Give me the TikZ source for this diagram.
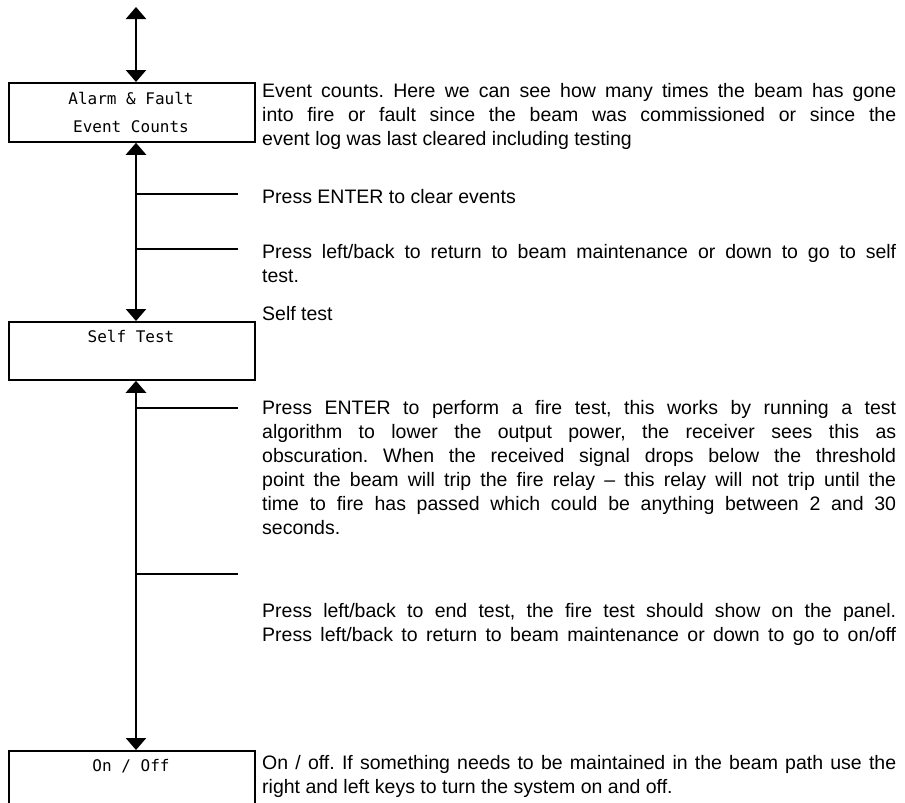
\documentclass[tikz,border=0pt]{standalone}
\usepackage{fontspec}
\setmainfont{Liberation Sans}
\newfontfamily\boxfont{DejaVu Sans Mono}
\usetikzlibrary{arrows.meta}
\tikzset{
  menubox/.style={draw, line width=1.8pt, minimum width=246pt, inner sep=0pt, anchor=north west},
  boxtext/.style={font=\boxfont\fontsize{16pt}{28.5pt}\selectfont, inner sep=0pt, anchor=base},
  flow/.style={line width=2.6pt, {Triangle[width=20pt,length=12pt]}-{Triangle[width=20pt,length=12pt]}},
  branch/.style={line width=2.6pt},
  desc/.style={font=\fontsize{19.5pt}{24pt}\selectfont,
    execute at begin node={\hyphenpenalty=10000 \exhyphenpenalty=10000 \frenchspacing},
    text width=634pt, align=justify, inner sep=0pt, anchor=base west},
}
\begin{document}
\begin{tikzpicture}[x=1pt,y=1pt]
\clip (0,0) rectangle (905,-803);
\fill[white] (0,0) rectangle (905,-803);
% boxes
\node[menubox, minimum height=59pt] (box1) at (8,-82) {};
\node[menubox, minimum height=58pt] (box2) at (8,-321) {};
\node[menubox, minimum height=80pt] (box3) at (8,-750) {};
\node[boxtext] (l1a) at (131,-104) {Alarm \& Fault};
\node[boxtext] (l1b) at (131,-132.5) {Event Counts};
\node[boxtext] (l2) at (131,-342) {Self Test};
\node[boxtext] (l3) at (131,-771) {On / Off};
% connectors
\coordinate (top) at (136,-7);
\coordinate (br1) at (238,-194);
\coordinate (br2) at (238,-249);
\coordinate (br3) at (238,-408);
\coordinate (br4) at (238,-574);
\draw[flow] (top) -- (top |- box1.north);
\draw[flow] (top |- box1.south) -- (top |- box2.north);
\draw[flow] (top |- box2.south) -- (top |- box3.north);
\draw[branch] (br1 -| top) -- (br1);
\draw[branch] (br2 -| top) -- (br2);
\draw[branch] (br3 -| top) -- (br3);
\draw[branch] (br4 -| top) -- (br4);
% descriptions
\node[desc] (t1) at (262,-97) {Event counts. Here we can see how many times the beam has gone\linebreak into fire or fault since the beam was commissioned or since the\linebreak event log was last cleared including testing};
\node[desc] (t2) at (262,-203) {Press ENTER to clear events};
\node[desc] (t3) at (262,-258) {Press left/back to return to beam maintenance or down to go to self\linebreak test.};
\node[desc] (t4) at (262,-320) {Self test};
\node[desc] (t5) at (262,-414) {Press ENTER to perform a fire test, this works by running a test\linebreak algorithm to lower the output power, the receiver sees this as\linebreak obscuration. When the received signal drops below the threshold\linebreak point the beam will trip the fire relay – this relay will not trip until the\linebreak time to fire has passed which could be anything between 2 and 30\linebreak seconds.};
\node[desc] (t6) at (262,-617) {Press left/back to end test, the fire test should show on the panel.\linebreak \makebox[634pt][s]{Press left/back to return to beam maintenance or down to go to on/off}};
\node[desc] (t7) at (262,-769) {On / off. If something needs to be maintained in the beam path use the\linebreak right and left keys to turn the system on and off.};
\end{tikzpicture}
\end{document}
